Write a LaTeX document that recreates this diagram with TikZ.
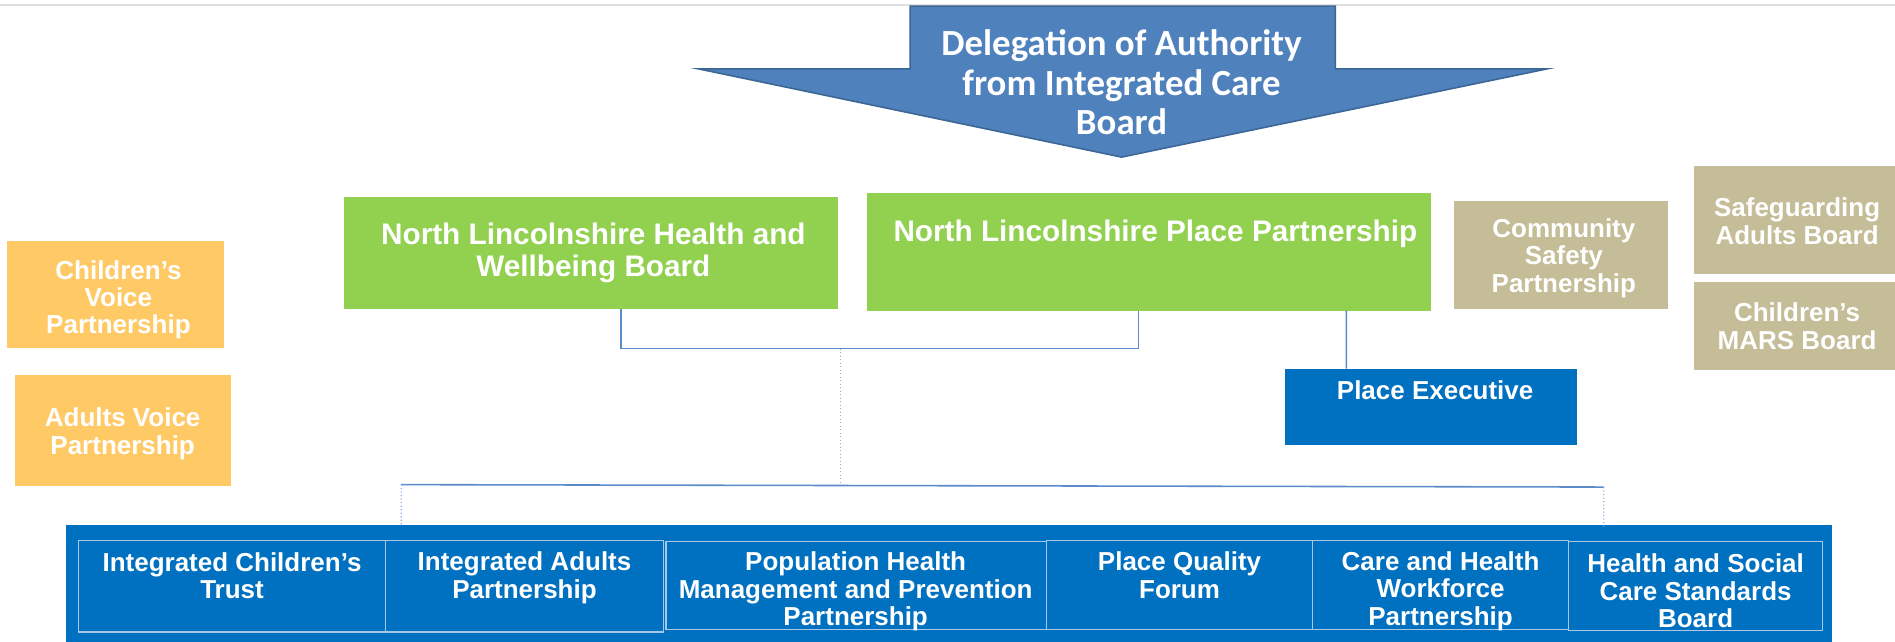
\documentclass[tikz,border=0pt]{standalone}
\usepackage{fontspec}
\setmainfont{Liberation Sans}
\newfontfamily\calfont{Carlito}
\usetikzlibrary{calc}
\definecolor{arrowblue}{HTML}{4F81BD}
\definecolor{arrowedge}{HTML}{3C6695}
\definecolor{lgreen}{HTML}{92D050}
\definecolor{tanbox}{HTML}{C4BD97}
\definecolor{goldbox}{HTML}{FFC966}
\definecolor{dblue}{HTML}{0070C0}
\definecolor{linkblue}{HTML}{5B8BCB}
\definecolor{cellline}{HTML}{A8C8E8}
\definecolor{topgray}{HTML}{E0E0E0}
\begin{document}
\begin{tikzpicture}[x=1pt,y=-1pt,
  box/.style={draw=none, inner sep=0, outer sep=0, anchor=north west},
  txt/.style={text=white, font=\bfseries\fontsize{21.5}{22.6}\selectfont, align=center, inner sep=0},
  bigtxt/.style={text=white, font=\bfseries\fontsize{24.6}{26.5}\selectfont, align=center, inner sep=0},
  arrtxt/.style={text=white, font=\calfont\bfseries\fontsize{30.5}{33}\selectfont, align=center, inner sep=0},
  link/.style={draw=linkblue, line width=1.3},
  dotlink/.style={draw=linkblue!70, line width=0.9, dotted},
  cell/.style={draw=cellline, line width=1, inner sep=0, outer sep=0, anchor=north west}
]
\useasboundingbox (0,0) rectangle (1568,530.4);
\fill[white] (0,0) rectangle (1568,530.4);
\draw[topgray, line width=2] (0,4) -- (1568,4);

% arrow
\draw[fill=arrowblue, draw=arrowedge, line width=1.3, line join=miter]
  (753,5) -- (1105,5) -- (1105,57) -- (1280,57) -- (928,130) -- (578,57) -- (753,57) -- cycle;
\node[arrtxt] (arr) at (928,68) {Delegation of Authority\\from Integrated Care\\Board};

% green boxes
\node[box, fill=lgreen, minimum width=408, minimum height=93] (hwb) at (285,163) {};
\node[bigtxt] (hwbt) at (491,209) {North Lincolnshire Health and\\Wellbeing Board};
\node[box, fill=lgreen, minimum width=467, minimum height=97] (ppb) at (717,160) {};
\node[bigtxt] (ppbt) at (956,193.5) {North Lincolnshire Place Partnership};

% tan boxes
\node[box, fill=tanbox, minimum width=177, minimum height=90] (csp) at (1203,166) {};
\node[txt] (cspt) at (1294,213.5) {Community\\Safety\\Partnership};
\node[box, fill=tanbox, minimum width=170, minimum height=90] (sab) at (1402,137) {};
\node[txt] (sabt) at (1487,183) {Safeguarding\\Adults Board};
\node[box, fill=tanbox, minimum width=170, minimum height=73] (cmb) at (1402,233) {};
\node[txt] (cmbt) at (1487,270) {Children's\\MARS Board};

% gold boxes
\node[box, fill=goldbox, minimum width=179, minimum height=89] (cvp) at (6,199) {};
\node[txt] (cvpt) at (98,248) {Children’s\\Voice\\Partnership};
\node[box, fill=goldbox, minimum width=179, minimum height=92] (avp) at (12,310) {};
\node[txt] (avpt) at (101.5,359) {Adults Voice\\Partnership};

% place executive
\node[box, fill=dblue, minimum width=242, minimum height=63] (pe) at (1063,305) {};
\node[txt] (pet) at (1187.5,323) {Place Executive};

% bottom bar
\node[box, fill=dblue, minimum width=1461, minimum height=100] (bar) at (55,434) {};
\node[cell, minimum width=254, minimum height=76] (c1) at (65,447) {};
\node[cell, minimum width=230, minimum height=76] (c2) at (319,447) {};
\node[cell, minimum width=315, minimum height=73] (c3) at (551,448) {};
\node[cell, minimum width=220, minimum height=74] (c4) at (866,447) {};
\node[cell, minimum width=212, minimum height=74] (c5) at (1086,447) {};
\node[cell, minimum width=210, minimum height=74] (c6) at (1298,448) {};
\node[txt] (c1t) at (192,476.5) {Integrated Children’s\\Trust};
\node[txt] (c2t) at (434,478) {Integrated Adults\\Partnership};
\node[txt] (c3t) at (708,489.5) {Population Health\\Management and Prevention\\Partnership};
\node[txt] (c4t) at (976,476) {Place Quality\\Forum};
\node[txt] (c5t) at (1192,489) {Care and Health\\Workforce\\Partnership};
\node[txt] (c6t) at (1403,489) {Health and Social\\Care Standards\\Board};

% connectors
\coordinate (hwbS) at ($(hwb.south west)!0.561!(hwb.south east)$);
\coordinate (ppbS) at ($(ppb.south west)!0.482!(ppb.south east)$);
\coordinate (ppbS2) at ($(ppb.south west)!0.850!(ppb.south east)$);
\coordinate (peN) at ($(pe.north west)!0.211!(pe.north east)$);
\coordinate (jn) at (695.5,288.5);
\coordinate (jb) at (695.5,402);
\coordinate (bl) at (332,401);
\coordinate (br) at (1327,403);
\coordinate (barL) at ($(bar.north west)!0.1896!(bar.north east)$);
\coordinate (barR) at ($(bar.north west)!0.8706!(bar.north east)+(0,3)$);

\draw[link] (hwbS) |- (jn) -| (ppbS);
\draw[link] (ppbS2) -- (peN);
\draw[dotlink] (jn) -- (jb);
\draw[link] (bl) -- (br);
\draw[dotlink] (bl) -- (barL);
\draw[dotlink] (br) -- (barR);
\end{tikzpicture}
\end{document}
